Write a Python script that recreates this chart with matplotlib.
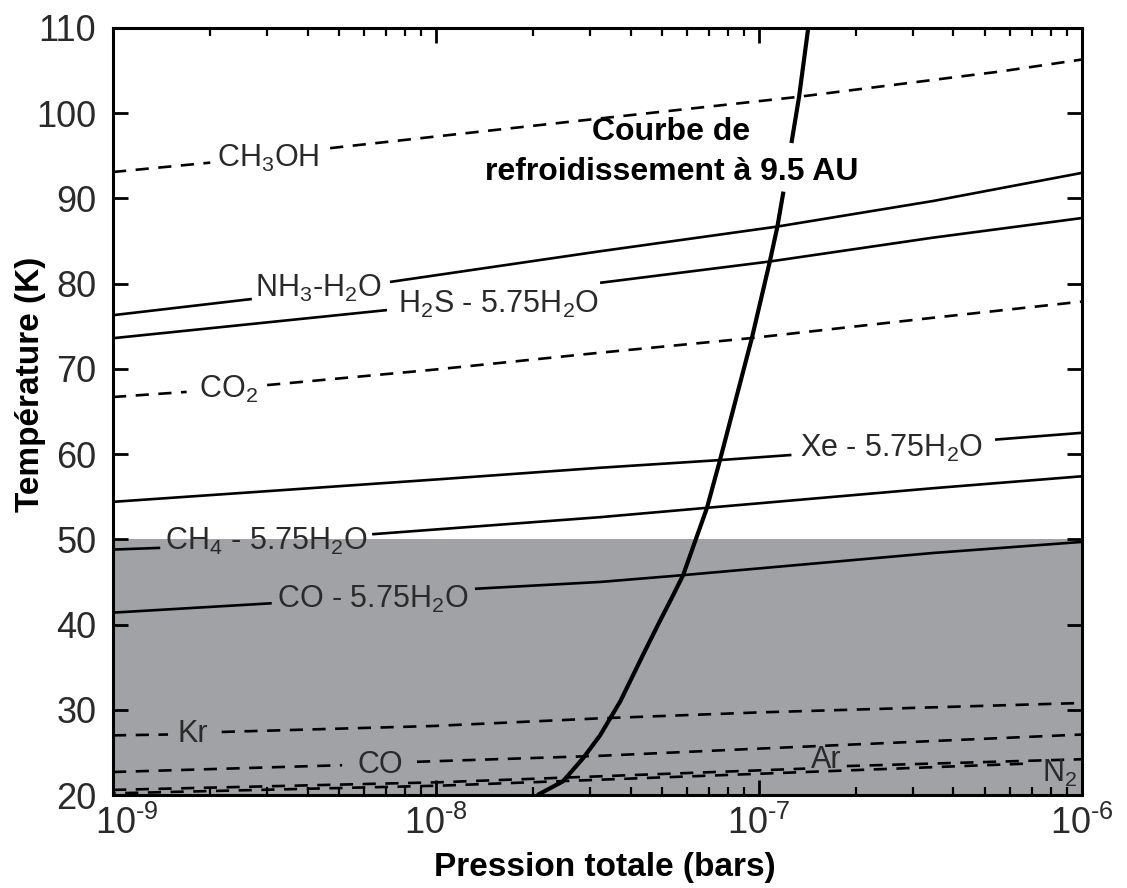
import math
import matplotlib
matplotlib.use("Agg")
import matplotlib.pyplot as plt
import matplotlib.transforms as mtransforms
from matplotlib.ticker import FixedLocator, LogLocator, FuncFormatter, NullFormatter

# Courbes d'équilibre : chaque courbe = liste de segments (coupés par les étiquettes)
# pression totale (bars) et température (K)
ch3oh_p = [[1e-9, 2.0e-9], [4.7e-9, 2.6e-8, 1.31e-7, 5.6e-7, 1e-6]]
ch3oh_t = [[93.1, 94.2], [95.9, 99.0, 101.9, 104.9, 106.3]]

nh3_p = [[1e-9, 2.69e-9], [7.2e-9, 3.22e-8, 1.14e-7, 3.46e-7, 1e-6]]
nh3_t = [[76.3, 78.2], [80.2, 83.8, 86.7, 89.7, 93.0]]

h2s_p = [[1e-9, 7.05e-9], [3.22e-8, 1.08e-7, 3.46e-7, 1e-6]]
h2s_t = [[73.6, 76.9], [80.1, 82.6, 85.4, 87.7]]

co2_p = [[1e-9, 1.69e-9], [3.0e-9, 9.8e-9, 3.22e-8, 9.38e-8, 3.46e-7, 1e-6]]
co2_t = [[66.7, 67.3], [68.1, 69.9, 71.9, 73.6, 76.0, 77.9]]

xe_p = [[1e-9, 9.8e-9, 3.22e-8, 7.57e-8, 1.26e-7], [5.38e-7, 1e-6]]
xe_t = [[54.4, 57.0, 58.4, 59.3, 59.9], [61.7, 62.5]]

ch4_p = [[1e-9, 1.40e-9], [6.34e-9, 3.22e-8, 6.90e-8, 3.46e-7, 1e-6]]
ch4_t = [[48.8, 49.0], [50.6, 52.6, 53.7, 56.0, 57.4]]

coh_p = [[1e-9, 3.10e-9], [1.32e-8, 3.22e-8, 5.82e-8, 3.46e-7, 1e-6]]
coh_t = [[41.4, 42.5], [44.2, 45.0, 45.8, 48.4, 49.7]]

kr_p = [[1e-9, 1.48e-9], [2.17e-9, 9.8e-9, 3.22e-8, 1.01e-7, 1e-6]]
kr_t = [[27.0, 27.1], [27.4, 28.1, 29.0, 29.7, 30.8]]

co_p = [[1e-9, 5.12e-9], [8.73e-9, 3.22e-8, 9.38e-8, 1e-6]]
co_t = [[22.7, 23.5], [23.9, 24.6, 25.4, 27.1]]

ar_p = [[1e-9, 1.03e-8, 1.01e-7, 1.39e-7], [1.87e-7, 1e-6]]
ar_t = [[20.6, 21.5, 22.9, 23.1], [23.4, 24.2]]

n2_p = [[1e-9, 1.03e-8, 1.01e-7, 6.90e-7]]
n2_t = [[20.2, 21.1, 22.5, 23.7]]

# courbe de refroidissement à 9.5 AU
refr_p = [[2.06e-8, 2.47e-8, 2.85e-8, 3.22e-8, 3.72e-8, 4.38e-8, 4.93e-8, 5.38e-8,
           5.82e-8, 6.90e-8, 7.57e-8, 9.50e-8, 1.08e-7, 1.14e-7, 1.19e-7],
          [1.26e-7, 1.33e-7, 1.42e-7]]
refr_t = [[20.0, 21.6, 24.3, 27.0, 31.0, 36.5, 40.4, 43.2, 45.8, 53.7, 59.3, 73.6,
           82.6, 86.7, 90.8],
          [96.5, 101.9, 110.0]]

# etiquettes : texte, pression, température (ligne de base)
etiquettes = [
    (r"CH$_3$OH", 3.02e-9, 93.7),
    (r"NH$_3$-H$_2$O", 4.32e-9, 78.5),
    (r"H$_2$S - 5.75H$_2$O", 1.56e-8, 76.6),
    (r"CO$_2$", 2.27e-9, 66.6),
    (r"Xe - 5.75H$_2$O", 2.58e-7, 59.7),
    (r"CH$_4$ - 5.75H$_2$O", 2.98e-9, 48.8),
    (r"CO - 5.75H$_2$O", 6.38e-9, 41.9),
    (r"Kr", 1.77e-9, 26.2),
    (r"CO", 6.72e-9, 22.6),
    (r"Ar", 1.62e-7, 23.2),
    (r"N$_2$", 8.5e-7, 21.5),
]

ticks_x = [1e-9, 1e-8, 1e-7, 1e-6]
ticks_y = [20, 30, 40, 50, 60, 70, 80, 90, 100, 110]
zone_grise = (20, 50)

params = {'font.family': ['Liberation Sans', 'DejaVu Sans'],
          'mathtext.fontset': 'custom',
          'mathtext.rm': 'Liberation Sans',
          'mathtext.it': 'Liberation Sans:italic',
          'mathtext.bf': 'Liberation Sans:bold',
          'axes.linewidth': 2.2}
matplotlib.rcParams.update(params)

fig = plt.figure(figsize=(11.27, 8.88), dpi=100, facecolor='w')
ax = fig.add_axes([0.1003, 0.1047, 0.8598, 0.8638])
ax.set_xscale('log')
ax.set_xlim(1e-9, 1e-6)
ax.set_ylim(20, 110)

# zone grisée
ax.axhspan(zone_grise[0], zone_grise[1], color='#a1a2a6', lw=0, zorder=0)

tirets = (0, (5.0, 3.6))
def trazar(segs_p, segs_t, ls, lw, off=0):
    for p, t in zip(segs_p, segs_t):
        style = ls if ls == '-' else (off, ls[1])
        ax.plot(p, t, color='k', ls=style, lw=lw, solid_capstyle='butt',
                dash_capstyle='butt', zorder=3)

trazar(ch3oh_p, ch3oh_t, tirets, 1.9)
trazar(nh3_p, nh3_t, '-', 1.9)
trazar(h2s_p, h2s_t, '-', 1.9)
trazar(co2_p, co2_t, tirets, 1.9)
trazar(xe_p, xe_t, '-', 1.9)
trazar(ch4_p, ch4_t, '-', 1.9)
trazar(coh_p, coh_t, '-', 1.9)
trazar(kr_p, kr_t, tirets, 1.9)
trazar(co_p, co_t, tirets, 1.9)
trazar(ar_p, ar_t, tirets, 1.9, off=0)
trazar(n2_p, n2_t, tirets, 1.9, off=4)
trazar(refr_p, refr_t, '-', 3.0)

for txt, p, t in etiquettes:
    ax.text(p, t, txt, fontsize=22, color='#2a2a2a', ha='center', va='baseline', zorder=4)

ax.text(5.35e-8, 96.9, "Courbe de", fontsize=23, fontweight='bold',
        ha='center', va='baseline', zorder=5)
ax.text(5.35e-8, 92.2, "refroidissement à 9.5 AU", fontsize=23, fontweight='bold',
        ha='center', va='baseline', zorder=5,
        bbox=dict(boxstyle='square,pad=0.12', fc='w', ec='none'))

# axes et graduations
def fmt_puissance(v, pos):
    return r"10$^{\text{-}%d}$" % abs(round(math.log10(v)))

ax.xaxis.set_major_locator(FixedLocator(ticks_x))
ax.xaxis.set_major_formatter(FuncFormatter(fmt_puissance))
ax.xaxis.set_minor_locator(LogLocator(base=10, subs=range(2, 10)))
ax.xaxis.set_minor_formatter(NullFormatter())
ax.set_yticks(ticks_y)
ax.tick_params(which='major', direction='in', length=11, width=2, top=True, right=True,
               labelsize=26, labelcolor='#2a2a2a')
ax.tick_params(axis='x', which='major', pad=8)
ax.tick_params(axis='y', which='major', pad=12)
ax.tick_params(which='minor', direction='in', length=6, width=1.6, top=True, right=True)

# décaler un peu 10^-9 vers la droite (évite le 20)
lab0 = ax.xaxis.get_major_ticks()[0].label1
lab0.set_transform(lab0.get_transform() +
                   mtransforms.ScaledTranslation(14 / 100, 0, fig.dpi_scale_trans))

ax.set_xlabel("Pression totale (bars)", fontsize=24, fontweight='bold')
ax.set_ylabel("Température (K)", fontsize=24, fontweight='bold')
ax.xaxis.set_label_coords(0.508, -0.074)
ax.yaxis.set_label_coords(-0.069, 0.536)

fig.savefig("out.png", dpi=100)
